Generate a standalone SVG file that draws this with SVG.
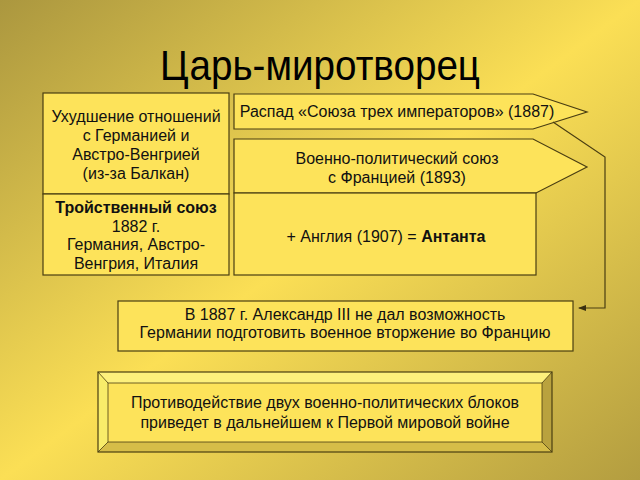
<svg xmlns="http://www.w3.org/2000/svg" width="640" height="480" viewBox="0 0 640 480">
<defs>
<linearGradient id="bg" x1="0" y1="0" x2="1" y2="1">
<stop offset="0" stop-color="#ab973f"/>
<stop offset="0.5" stop-color="#fbdf55"/>
<stop offset="1" stop-color="#b39d40"/>
</linearGradient>
<marker id="ah" markerWidth="8" markerHeight="6" refX="7" refY="3" orient="auto" markerUnits="userSpaceOnUse">
<path d="M0,0 L8,3 L0,6 z" fill="#3a3010"/>
</marker>
<style>
.box{fill:#fde35a;stroke:#4a3e12;stroke-width:1.2}
.t{font-family:"Liberation Sans",Arial,sans-serif;font-size:16px;fill:#111;text-anchor:middle}
.b{font-weight:bold}
.con{fill:none;stroke:#4a3e12;stroke-width:1.2}
</style>
</defs>
<rect x="0" y="0" width="640" height="480" fill="url(#bg)"/>
<text x="320" y="80" font-family="Liberation Sans, Arial, sans-serif" font-size="43" text-anchor="middle" textLength="320" lengthAdjust="spacingAndGlyphs" fill="#000">Царь-миротворец</text>

<g id="n1">
<rect class="box" x="43" y="93" width="186" height="101"/>
<text class="t" x="136" y="122">Ухудшение отношений</text>
<text class="t" x="136" y="141">с Германией и</text>
<text class="t" x="136" y="160">Австро-Венгрией</text>
<text class="t" x="136" y="179">(из-за Балкан)</text>
</g>
<g id="n2">
<rect class="box" x="43" y="194" width="186" height="81"/>
<text class="t b" x="136" y="213">Тройственный союз</text>
<text class="t" x="136" y="232">1882 г.</text>
<text class="t" x="136" y="250">Германия, Австро-</text>
<text class="t" x="136" y="269">Венгрия, Италия</text>
</g>
<g id="n3">
<polygon class="box" points="234,94 533,94 587,112 533,129 234,129"/>
<text class="t" x="397" y="117">Распад «Союза трех императоров» (1887)</text>
</g>
<g id="n4">
<polygon class="box" points="234,139 533,139 587,167 536,193 234,193"/>
<text class="t" x="397" y="164">Военно-политический союз</text>
<text class="t" x="397" y="183">с Францией (1893)</text>
</g>
<g id="n5">
<rect class="box" x="234" y="193" width="302" height="82"/>
<text class="t" x="386" y="242">+ Англия (1907) = <tspan class="b">Антанта</tspan></text>
</g>
<g id="n6">
<rect class="box" x="118" y="301" width="455" height="50"/>
<text class="t" x="345" y="320">В 1887 г. Александр III не дал возможность</text>
<text class="t" x="345" y="338">Германии подготовить военное вторжение во Францию</text>
</g>
<g id="n7">
<rect x="98" y="372" width="454" height="80" fill="#fde35a"/>
<polygon points="98,372 552,372 542,383 108,383" fill="#fdf07c"/>
<polygon points="98,372 108,383 108,442 98,452" fill="#f8ec6a"/>
<polygon points="98,452 108,442 542,442 552,452" fill="#d6bd48"/>
<polygon points="552,372 552,452 542,442 542,383" fill="#b9a23e"/>
<rect x="108" y="383" width="434" height="59" fill="#fde35a" stroke="#4a3e12" stroke-width="0.8"/>
<rect x="98" y="372" width="454" height="80" fill="none" stroke="#4a3e12" stroke-width="1.2"/>
<path d="M98,372 L108,383 M552,372 L542,383 M98,452 L108,442 M552,452 L542,442" stroke="#4a3e12" stroke-width="0.8"/>
<text class="t" x="325" y="408">Противодействие двух военно-политических блоков</text>
<text class="t" x="325" y="428">приведет в дальнейшем к Первой мировой войне</text>
</g>
<g id="connectors">
<path class="con" d="M553,122 L605,157 L605,308 L579,308" marker-end="url(#ah)"/>
</g>
</svg>
